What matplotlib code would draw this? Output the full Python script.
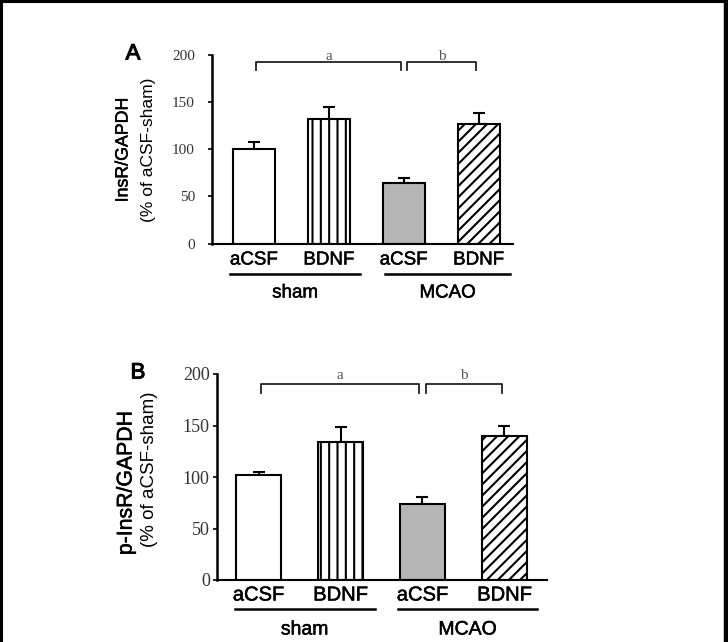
import matplotlib
matplotlib.use("Agg")
import matplotlib.pyplot as plt
from matplotlib.lines import Line2D
import matplotlib.transforms as mtransforms
import matplotlib.patheffects as pe

plt.rcParams['hatch.linewidth'] = 1.5

treatments = ["aCSF", "BDNF", "aCSF", "BDNF"]
groups = ["sham", "MCAO"]
A_values = [100, 132, 64.5, 126.5]
A_errors = [8, 13, 5.5, 11.5]
B_values = [102, 134, 73.5, 139.5]
B_errors = [2.5, 15, 7.5, 10.5]
yticks = [0, 50, 100, 150, 200]
A_ylabel = ["InsR/GAPDH", "(% of aCSF-sham)"]
B_ylabel = ["p-InsR/GAPDH", "(% of aCSF-sham)"]
sig_labels = ["a", "b"]

fills = ["white", "white", "#b5b5b5", "white"]
hatches = [None, "||", None, "///"]

W, H = 728, 642
fig = plt.figure(figsize=(W / 100, H / 100), dpi=100)

# border (left, top, right)
fig.add_artist(Line2D([1 / W, 1 / W], [0, 1], color="black", lw=2.2, transform=fig.transFigure))
fig.add_artist(Line2D([0, 1], [1 - 1 / H, 1 - 1 / H], color="black", lw=2.2, transform=fig.transFigure))
fig.add_artist(Line2D([1 - 1.6 / W, 1 - 1.6 / W], [0, 1], color="black", lw=3.2, transform=fig.transFigure))

semi = [pe.withStroke(linewidth=0.35, foreground="black")]
heavy = [pe.withStroke(linewidth=0.8, foreground="black")]


def px_ax(l, r, b, t):
    return fig.add_axes([l / W, 1 - b / H, (r - l) / W, (b - t) / H])


def panel(ax, values, errors, xlim, bw, letter, ylabel, fs_t, fs_g, fs_tick, tick_pad,
          lab_y, grp_y, line_y, br_y, br_drop, sig_y, ylab, ylab_fs, letter_xy, line_spans):
    x = list(range(len(values)))
    ax.bar(x, values, width=bw, color=fills, edgecolor="black", linewidth=1.5,
           hatch=hatches, zorder=2)
    ax.errorbar(x, values, yerr=[[0] * len(values), errors], fmt="none", ecolor="black",
                elinewidth=1.5, capsize=4.3, capthick=1.5, zorder=1)
    ax.set_xlim(*xlim)
    ax.set_ylim(0, 200)
    for s in ["top", "right"]:
        ax.spines[s].set_visible(False)
    ax.spines["left"].set_linewidth(1.8)
    ax.spines["bottom"].set_linewidth(1.5)
    ax.set_xticks([])
    ax.set_yticks(yticks)
    ax.set_yticklabels([str(v) for v in yticks], family="Liberation Serif",
                       fontsize=fs_tick, color="#333333")
    ax.tick_params(axis="y", length=3, width=1.2, pad=tick_pad)

    trans = mtransforms.blended_transform_factory(ax.transData, fig.transFigure)
    for xi, t in zip(x, treatments):
        ax.text(xi, 1 - lab_y / H, t, transform=trans, ha="center", va="center",
                fontsize=fs_t, family="Liberation Sans", clip_on=False, path_effects=semi)
    for (x0, x1), g in zip(line_spans, groups):
        ax.add_artist(Line2D([x0, x1], [1 - line_y / H] * 2, transform=trans, color="black",
                             lw=1.8, clip_on=False))
        ax.text((x0 + x1) / 2, 1 - grp_y / H, g, transform=trans, ha="center", va="center",
                fontsize=fs_g, family="Liberation Sans", clip_on=False, path_effects=semi)

    # significance brackets
    top = 1 - br_y / H
    drop = br_drop / H
    brs = [(x[0] + 0.03, x[2] - 0.04), (x[2] + 0.04, x[3] - 0.03)]
    for (x0, x1), s in zip(brs, sig_labels):
        ax.add_artist(Line2D([x0, x0, x1, x1], [top - drop, top, top, top - drop],
                             transform=trans, color="#222222", lw=1.3, clip_on=False))
        ax.text((x0 + x1) / 2, 1 - sig_y / H, s, transform=trans, ha="center", va="center",
                fontsize=11, family="Liberation Serif", color="#555555", clip_on=False)

    fig.text(letter_xy[0] / W, 1 - letter_xy[1] / H, letter, fontsize=16,
             family="Liberation Sans", ha="center", va="center", path_effects=heavy)
    fig.text(ylab[0] / W, 1 - ylab[2] / H, ylabel[0], rotation=90, fontsize=ylab_fs[0],
             family="Liberation Sans", ha="center", va="center", path_effects=semi)
    fig.text(ylab[1] / W, 1 - ylab[3] / H, ylabel[1], rotation=90, fontsize=ylab_fs[1],
             family="Liberation Sans", ha="center", va="center")


# Panel A
axA = px_ax(211.7, 513, 243.5, 55)
panel(axA, A_values, A_errors, (-0.564, 3.46), 0.56, "A", A_ylabel,
      fs_t=13.5, fs_g=13.5, fs_tick=11, tick_pad=9,
      lab_y=260, grp_y=293, line_y=273.5, br_y=62, br_drop=8, sig_y=56,
      ylab=(123, 148, 150, 149.5), ylab_fs=(12.8, 12.5), letter_xy=(133, 54),
      line_spans=[(-0.32, 1.42), (1.75, 3.42)])

# Panel B
axB = px_ax(216.7, 546.7, 580, 374)
panel(axB, B_values, B_errors, (-0.51, 3.515), 0.55, "B", B_ylabel,
      fs_t=14.5, fs_g=14, fs_tick=13, tick_pad=2,
      lab_y=595, grp_y=630, line_y=609, br_y=383.5, br_drop=9.5, sig_y=376,
      ylab=(126, 149, 483, 469), ylab_fs=(15.3, 13.5), letter_xy=(138, 373),
      line_spans=[(-0.29, 1.42), (1.7, 3.4)])

fig.savefig("out.png", dpi=100)
